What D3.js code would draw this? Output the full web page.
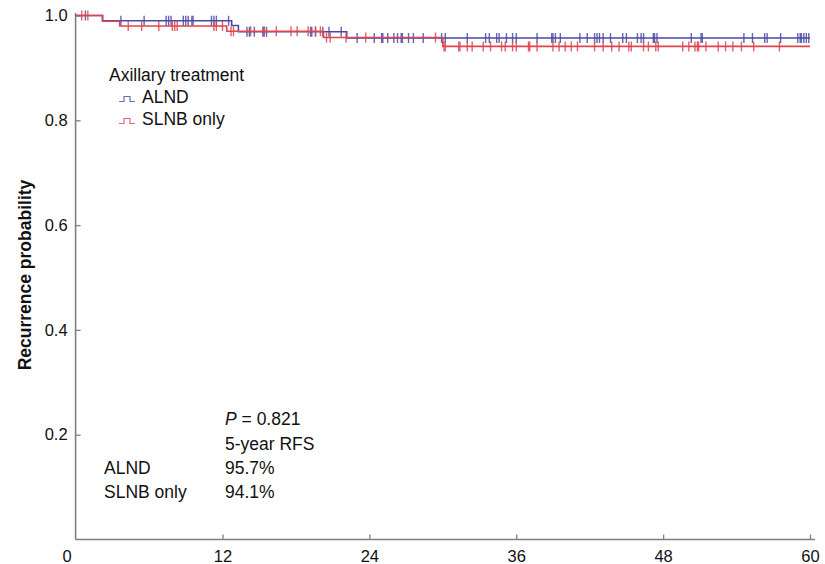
<!DOCTYPE html>
<meta charset="utf-8">
<script src="https://d3js.org/d3.v7.min.js"></script>
<style>
    body { margin: 0; background: #fff; }
    text { font-family: 'Liberation Sans', Arial, sans-serif; }
</style>
<div id="chart"></div>
<script>
    // Kaplan-Meier steps (months, survival after the step)
    const alndTimes = [2.2, 12.75, 13.3, 22.15];
    const alndSurv = [0.990, 0.981, 0.969, 0.957];
    const slnbTimes = [2.2, 3.6, 12.35, 20.25, 30.0];
    const slnbSurv = [0.989, 0.980, 0.970, 0.958, 0.941];

    // censored observations (months)
    const alndCensor = [0.8, 3.7, 5.6, 7.4, 7.6, 7.8, 8.8, 9.0, 9.2, 9.5, 9.6, 11.1, 11.3, 11.5, 12.5,
        14.0, 14.2, 14.6, 15.3, 15.4, 15.6, 19.2, 19.3, 19.6, 20.2, 20.7, 21.7, 23.0, 24.4, 25.0, 25.1,
        25.5, 26.0, 26.3, 26.6, 26.7, 27.2, 27.6, 28.4, 29.9, 30.2, 32.0, 33.5, 33.8, 34.4, 34.6, 35.2,
        35.7, 36.0, 37.7, 38.9, 39.0, 39.2, 39.6, 41.2, 41.8, 42.4, 42.6, 42.8, 43.1, 43.7, 44.7, 45.0,
        45.9, 46.2, 46.4, 47.2, 47.3, 47.5, 50.3, 51.1, 51.2, 54.6, 55.3, 56.3, 56.5, 57.6, 59.0, 59.2,
        59.3, 59.5, 59.7, 59.9];
    const slnbCensor = [0.5, 1.0, 4.3, 5.4, 6.8, 7.9, 8.1, 8.3, 11.3, 11.5, 12.0, 12.7, 12.9, 14.3, 15.4,
        16.4, 17.6, 18.1, 19.0, 19.6, 20.0, 20.5, 20.8, 22.1, 23.7, 29.4, 30.1, 30.2, 31.3, 31.4, 32.0,
        32.4, 33.3, 33.9, 34.8, 35.1, 35.7, 36.0, 37.0, 37.1, 37.7, 39.0, 39.5, 40.0, 40.5, 41.0, 42.4,
        43.1, 43.8, 44.4, 45.2, 45.4, 46.4, 46.8, 47.4, 47.6, 49.6, 50.1, 50.6, 50.8, 50.9, 51.5, 52.5,
        53.1, 53.7, 54.4, 55.4, 57.5];

    const xTicks = [0, 12, 24, 36, 48, 60];
    const yTicks = [0.2, 0.4, 0.6, 0.8, 1.0];
    const endTime = 60;

    const groups = [
        {name: "ALND", times: alndTimes, surv: alndSurv, censor: alndCensor, color: "#4a4aa6", rfs: "95.7%"},
        {name: "SLNB only", times: slnbTimes, surv: slnbSurv, censor: slnbCensor, color: "#e0444e", rfs: "94.1%"}
    ];

    const width = 825, height = 564;
    const fontSize = 17.5;
    const svg = d3.select("#chart").append("svg")
        .attr("width", width)
        .attr("height", height);

    const x = d3.scaleLinear().domain([0, 60]).range([75.6, 810]);
    const y = d3.scaleLinear().domain([0, 1]).range([539.5, 15.5]);

    const axisColor = "#808080";

    // axis lines
    svg.append("line")
        .attr("x1", x(0)).attr("x2", 815)
        .attr("y1", y(0)).attr("y2", y(0))
        .attr("stroke", axisColor).attr("stroke-width", 1.6);
    svg.append("line")
        .attr("x1", x(0)).attr("x2", x(0))
        .attr("y1", y(0)).attr("y2", 13)
        .attr("stroke", axisColor).attr("stroke-width", 1.6);

    // x axis
    const xAxis = svg.append("g")
        .attr("transform", "translate(0," + y(0) + ")")
        .call(d3.axisBottom(x).tickValues(xTicks).tickSize(-5).tickPadding(11));
    xAxis.select(".domain").remove();
    xAxis.selectAll(".tick line").attr("stroke", axisColor).attr("stroke-width", 1.3);
    xAxis.selectAll(".tick").filter(d => d === 0).select("line").remove();
    xAxis.selectAll(".tick").filter(d => d === 0).select("text").attr("x", -9);
    xAxis.selectAll("text").attr("font-size", 16.5).attr("fill", "#111")
        .attr("font-family", "'Liberation Sans', Arial, sans-serif");

    // y axis
    const yAxis = svg.append("g")
        .attr("transform", "translate(" + x(0) + ",0)")
        .call(d3.axisLeft(y).tickValues(yTicks).tickFormat(d3.format(".1f")).tickSize(-5).tickPadding(8));
    yAxis.select(".domain").remove();
    yAxis.selectAll(".tick line").attr("stroke", axisColor).attr("stroke-width", 1.3);
    yAxis.selectAll("text").attr("font-size", 16.5).attr("fill", "#111")
        .attr("font-family", "'Liberation Sans', Arial, sans-serif");

    // y axis title
    svg.append("text")
        .attr("transform", "translate(31,275) rotate(-90)")
        .attr("text-anchor", "middle")
        .attr("font-size", fontSize)
        .attr("font-weight", "bold")
        .attr("fill", "#111")
        .text("Recurrence probability");

    // survival value at time t
    function survAt(g, t) {
        let s = 1;
        for (let i = 0; i < g.times.length; i++) {
            if (t >= g.times[i]) s = g.surv[i];
        }
        return s;
    }

    const line = d3.line()
        .x(d => x(d[0]))
        .y(d => y(d[1]))
        .curve(d3.curveStepAfter);

    groups.forEach(function (g) {
        let pts = [[0, 1]];
        g.times.forEach((t, i) => pts.push([t, g.surv[i]]));
        pts.push([endTime, g.surv[g.surv.length - 1]]);

        svg.append("path")
            .datum(pts)
            .attr("d", line)
            .attr("fill", "none")
            .attr("stroke", g.color)
            .attr("stroke-width", 1.6);

        svg.append("g").selectAll("line")
            .data(g.censor)
            .enter().append("line")
            .attr("x1", d => x(d)).attr("x2", d => x(d))
            .attr("y1", d => y(survAt(g, d)) - 5)
            .attr("y2", d => y(survAt(g, d)) + 5)
            .attr("stroke", g.color)
            .attr("stroke-width", 1.4)
            .attr("opacity", 0.85);
    });

    // legend
    const legend = svg.append("g");
    legend.append("text")
        .attr("x", 109).attr("y", 81)
        .attr("font-size", fontSize).attr("fill", "#111")
        .text("Axillary treatment");
    groups.forEach(function (g, i) {
        const ly = 103 + i * 22;
        legend.append("path")
            .attr("d", "M119," + (ly - 1.5) + "h5v-5h6v5h5")
            .attr("fill", "none")
            .attr("stroke", g.color)
            .attr("stroke-width", 1.2)
            .attr("opacity", 0.8);
        legend.append("text")
            .attr("x", 142).attr("y", ly)
            .attr("font-size", fontSize).attr("fill", "#111")
            .text(g.name);
    });

    // statistics block
    const stats = svg.append("g").attr("font-size", fontSize).attr("fill", "#111");
    const pText = stats.append("text").attr("x", 225).attr("y", 425);
    pText.append("tspan").attr("font-style", "italic").text("P");
    pText.append("tspan").text(" = 0.821");
    stats.append("text").attr("x", 225).attr("y", 450).text("5-year RFS");
    groups.forEach(function (g, i) {
        stats.append("text").attr("x", 104).attr("y", 474 + i * 24).text(g.name);
        stats.append("text").attr("x", 225).attr("y", 474 + i * 24).text(g.rfs);
    });
</script>
